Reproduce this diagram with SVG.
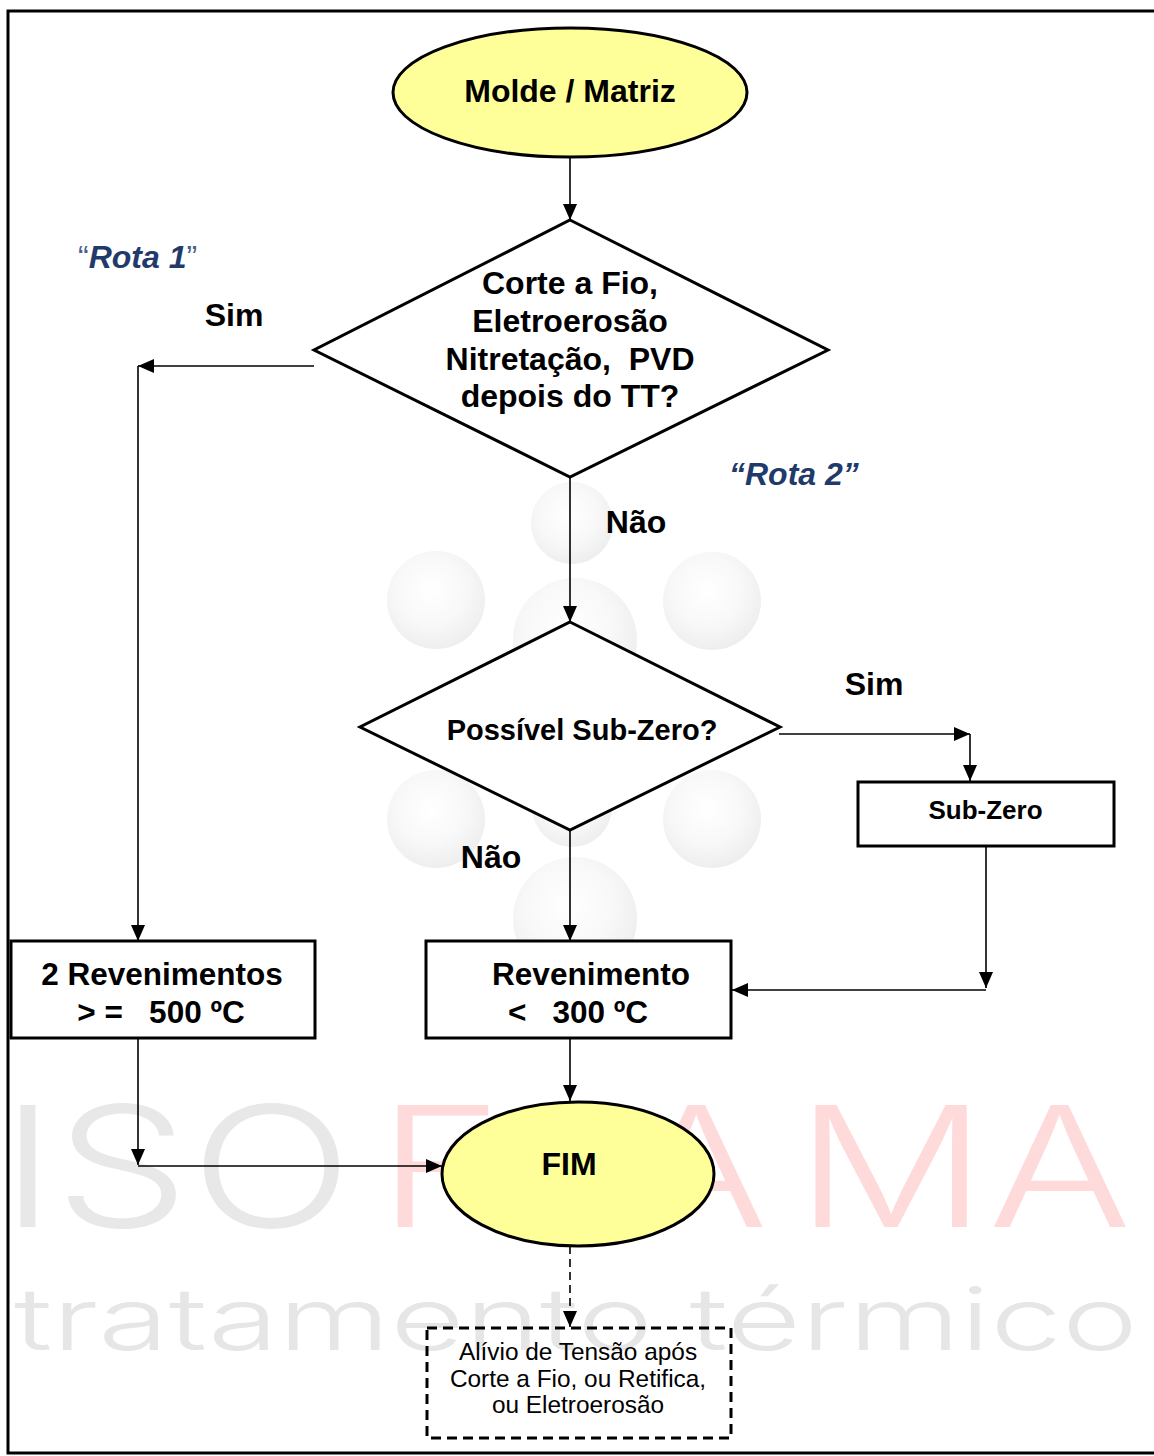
<svg xmlns="http://www.w3.org/2000/svg" width="1154" height="1456" viewBox="0 0 1154 1456">
<style>
.t{font-family:"Liberation Sans",Arial,sans-serif;fill:#000;}
.b{font-weight:bold;}
.c{text-anchor:middle;}
.pre{white-space:pre;}
.shape{stroke:#000;stroke-width:3;}
.con{fill:none;stroke:#000;stroke-width:1.6;}
.rota{font-family:"Liberation Sans",Arial,sans-serif;font-weight:bold;font-style:italic;fill:#1F3A6B;font-size:32px;}
.sph{fill:url(#sg);}
.wm{font-family:Inter,"Open Sans","Liberation Sans",sans-serif;font-weight:330;}
</style>
<defs>
<marker id="ah" markerUnits="userSpaceOnUse" markerWidth="16" markerHeight="14" refX="16" refY="7" orient="auto">
<path d="M0,0 L16,7 L0,14 z" fill="#000"/>
</marker>
<radialGradient id="sg" cx="45%" cy="40%" r="60%">
<stop offset="0" stop-color="#FFFFFF"/>
<stop offset="0.6" stop-color="#F8F8F8"/>
<stop offset="1" stop-color="#EEEEEE"/>
</radialGradient>
</defs>
<rect x="0" y="0" width="1154" height="1456" fill="#fff"/>
<g id="watermark">
<circle class="sph" cx="572" cy="523" r="41"/>
<circle class="sph" cx="436" cy="600" r="49"/>
<circle class="sph" cx="712" cy="601" r="49"/>
<circle class="sph" cx="575" cy="640" r="62"/>
<circle class="sph" cx="436" cy="819" r="49"/>
<circle class="sph" cx="712" cy="819" r="49"/>
<circle class="sph" cx="572" cy="807" r="40"/>
<circle class="sph" cx="575" cy="919" r="62"/>
<g transform="scale(1.27,1)">
<text class="wm" y="1227" font-size="168" x="0 43 150 297 492 626 778"><tspan fill="#E8E8E8">ISO</tspan><tspan fill="#FFDADA">FAMA</tspan></text>
</g>
<text class="wm" x="14" y="1350" font-size="86" fill="#E6E6E6" textLength="1124" lengthAdjust="spacingAndGlyphs">tratamento térmico</text>
</g>
<rect id="border" x="8" y="11" width="1150" height="1442" fill="none" stroke="#000" stroke-width="3"/>
<g id="connectors">
<path class="con" d="M570,157 V220" marker-end="url(#ah)"/>
<path class="con" d="M314,366 H138" marker-end="url(#ah)"/>
<path class="con" d="M138,366 V941" marker-end="url(#ah)"/>
<path class="con" d="M570,477 V622" marker-end="url(#ah)"/>
<path class="con" d="M779,734 H970" marker-end="url(#ah)"/>
<path class="con" d="M970,734 V781" marker-end="url(#ah)"/>
<path class="con" d="M570,830 V941" marker-end="url(#ah)"/>
<path class="con" d="M986,847 V988" marker-end="url(#ah)"/>
<path class="con" d="M986,990 H732" marker-end="url(#ah)"/>
<path class="con" d="M570,1038 V1101" marker-end="url(#ah)"/>
<path class="con" d="M138,1038 V1165" marker-end="url(#ah)"/>
<path class="con" d="M138,1166 H442" marker-end="url(#ah)"/>
<path class="con" d="M570,1246 V1327" stroke-dasharray="8,5" marker-end="url(#ah)"/>
</g>
<g id="labels">
<text class="rota" x="78" y="268"><tspan font-style="normal" font-weight="normal" fill="#4A5F86">“</tspan>Rota 1<tspan font-style="normal" font-weight="normal" fill="#4A5F86">”</tspan></text>
<text class="rota" x="729" y="485">“Rota 2”</text>
<text class="t b c" x="234" y="326" font-size="32">Sim</text>
<text class="t b c" x="636" y="533" font-size="32">Não</text>
<text class="t b c" x="874" y="695" font-size="32">Sim</text>
<text class="t b c" x="491" y="868" font-size="32">Não</text>
</g>
<g id="start">
<ellipse class="shape" cx="570" cy="92.5" rx="177" ry="64.5" fill="#FFFF99"/>
<text class="t b c" x="570" y="102" font-size="32">Molde / Matriz</text>
</g>
<g id="decision1">
<polygon class="shape" points="570,220 828,350 570,477 314,350" fill="#fff"/>
<text class="t b c pre" font-size="32"><tspan x="570" y="294">Corte a Fio,</tspan><tspan x="570" y="332">Eletroerosão</tspan><tspan x="570" y="370">Nitretação,  PVD</tspan><tspan x="570" y="407">depois do TT?</tspan></text>
</g>
<g id="decision2">
<polygon class="shape" points="570,622 780,727 570,830 360,727" fill="#fff"/>
<text class="t b c" x="582" y="740" font-size="29">Possível Sub-Zero?</text>
</g>
<g id="subzero">
<rect class="shape" x="858" y="782" width="256" height="64" fill="#fff"/>
<text class="t b c" x="985.5" y="819" font-size="26">Sub-Zero</text>
</g>
<g id="rev2">
<rect class="shape" x="11" y="941" width="304" height="97" fill="#fff"/>
<text class="t b c pre" font-size="31.5"><tspan x="162" y="985">2 Revenimentos</tspan><tspan x="161" y="1023">&gt; =   500 ºC</tspan></text>
</g>
<g id="rev1">
<rect class="shape" x="426" y="941" width="305" height="97" fill="#fff"/>
<text class="t b c pre" font-size="31.5"><tspan x="591" y="985">Revenimento</tspan><tspan x="578" y="1023">&lt;   300 ºC</tspan></text>
</g>
<g id="end">
<ellipse class="shape" cx="578" cy="1174" rx="136" ry="72" fill="#FFFF99"/>
<text class="t b c" x="569" y="1175" font-size="32">FIM</text>
</g>
<g id="relief">
<rect x="427" y="1328" width="304" height="110" fill="none" stroke="#000" stroke-width="3" stroke-dasharray="10,6"/>
<text class="t c" font-size="24.4"><tspan x="578" y="1360">Alívio de Tensão após</tspan><tspan x="578" y="1387">Corte a Fio, ou Retifica,</tspan><tspan x="578" y="1413">ou Eletroerosão</tspan></text>
</g>
</svg>
